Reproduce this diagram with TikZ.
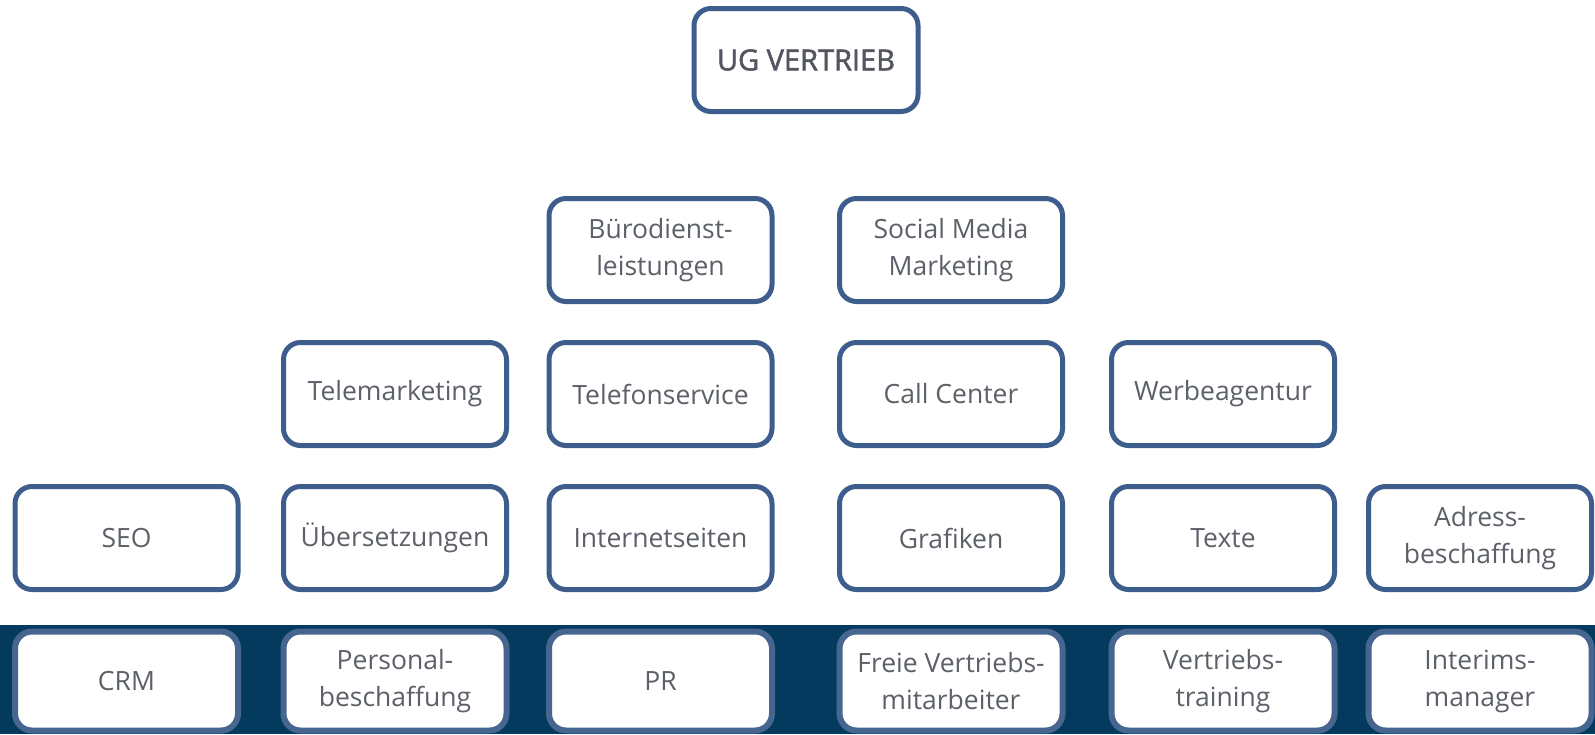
\documentclass[tikz,border=0pt]{standalone}
\usepackage{fontspec}
\setmainfont{Open Sans}
\usepackage{tikz}
\usepackage{xcolor}
\usetikzlibrary{positioning}

\definecolor{frameblue}{HTML}{3D5E8C}
\definecolor{bandblue}{HTML}{043A5E}
\definecolor{bandframe}{HTML}{46668F}
\definecolor{labelgray}{HTML}{5C6068}

\begin{document}
\begin{tikzpicture}[
        x=1pt, y=-1pt,
        node distance=36pt,
        unit/.style={rectangle, draw=frameblue, line width=5pt, fill=white, rounded corners=17pt,
            minimum width=223pt, minimum height=103pt, align=center, text=labelgray,
            font=\fontsize{26.5}{37}\selectfont},
        bandunit/.style={unit, draw=bandframe, line width=6pt, minimum height=99pt},
        headunit/.style={unit, minimum width=224pt, font=\fontsize{29}{37}\selectfont\addfontfeatures{FakeBold=1.8}, text=labelgray!90!black}
    ]
    \useasboundingbox (0,0) rectangle (1595,734);

    % Band at the bottom
    \fill[bandblue] (0,625) rectangle (1595,734);

    % Head
    \node (Top) [headunit] at (806,60) {UG VERTRIEB};

    % Row 1
    \node (R1_C3) [unit] at (660.5,250) {Bürodienst-\\leistungen};
    \node (R1_C4) [unit] at (951,250) {Social Media\\Marketing};

    % Row 2
    \node (R2_C2) [unit] at (395,394) {Telemarketing};
    \node (R2_C3) [unit, below=of R1_C3] {Telefonservice};
    \node (R2_C4) [unit, below=of R1_C4] {Call Center};
    \node (R2_C5) [unit] at (1223,394) {Werbeagentur};

    % Row 3
    \node (R3_C1) [unit] at (126.5,538) {SEO};
    \node (R3_C2) [unit, below=of R2_C2] {Übersetzungen};
    \node (R3_C3) [unit, below=of R2_C3] {Internetseiten};
    \node (R3_C4) [unit, below=of R2_C4] {Grafiken};
    \node (R3_C5) [unit, below=of R2_C5] {Texte};
    \node (R3_C6) [unit] at (1480,538) {Adress-\\beschaffung};

    % Row 4 (on the band)
    \node (R4_C1) [bandunit] at (126.5,681) {CRM};
    \node (R4_C2) [bandunit] at (395,681) {Personal-\\beschaffung};
    \node (R4_C3) [bandunit] at (660.5,681) {PR};
    \node (R4_C4) [bandunit] at (951,681) {Freie Vertriebs-\\mitarbeiter};
    \node (R4_C5) [bandunit] at (1223,681) {Vertriebs-\\training};
    \node (R4_C6) [bandunit] at (1480,681) {Interims-\\manager};

\end{tikzpicture}
\end{document}
